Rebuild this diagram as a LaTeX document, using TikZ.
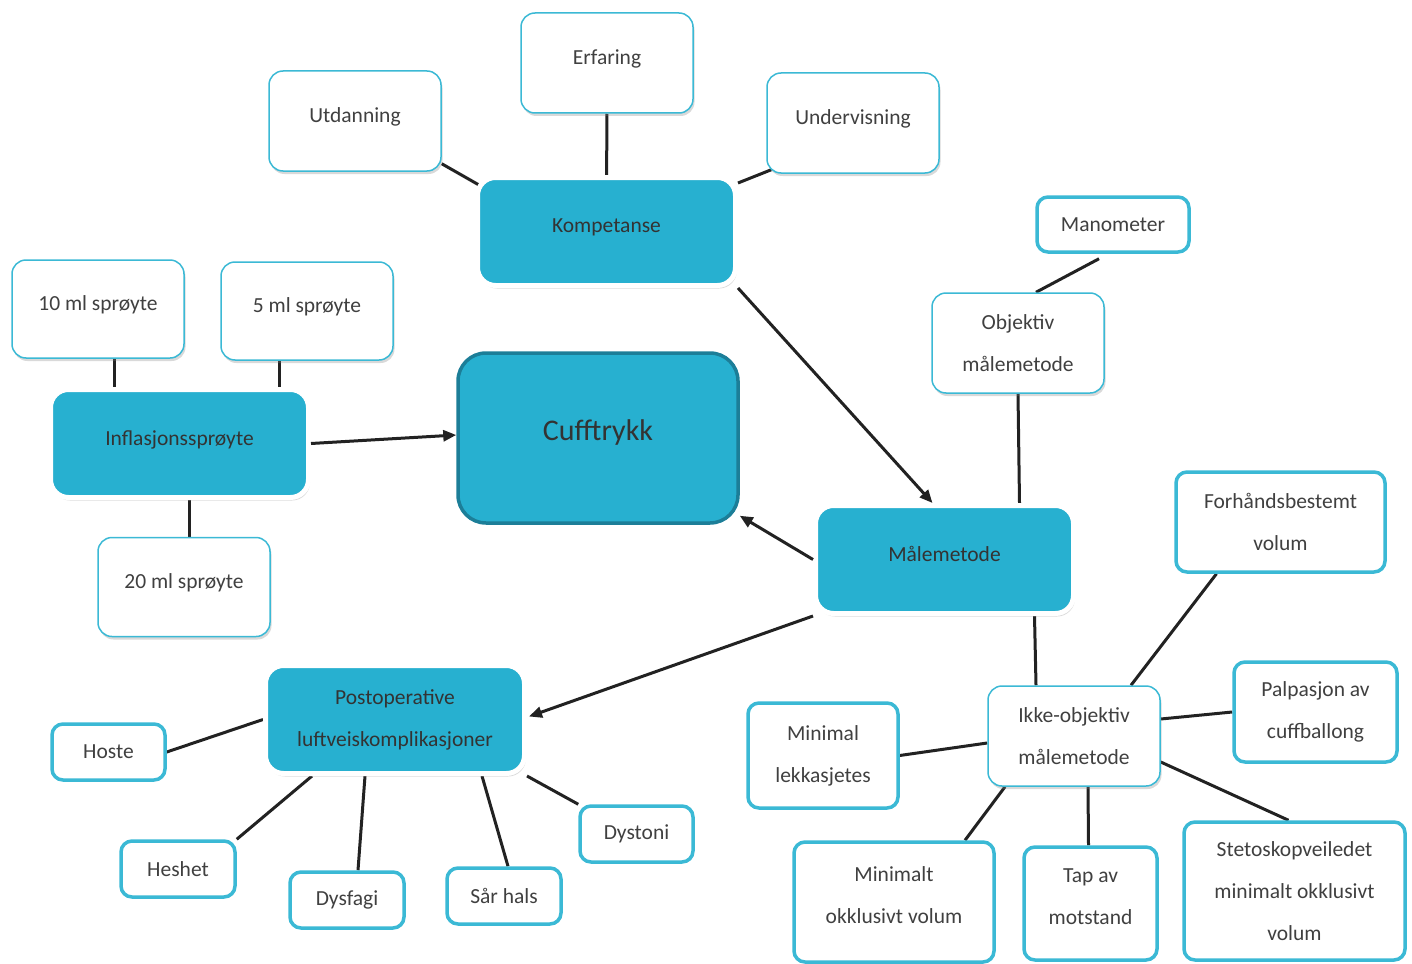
\documentclass[tikz,border=0pt]{standalone}
\usepackage{fontspec}
\setmainfont{Carlito}
\usetikzlibrary{arrows.meta,shadows,backgrounds,calc}

\definecolor{cuffblue}{HTML}{27B0D0}
\definecolor{cuffedge}{HTML}{3BB9D5}
\definecolor{cuffdark}{HTML}{1C7E98}
\definecolor{txtgray}{HTML}{404040}
\definecolor{linegray}{HTML}{222222}

\begin{document}
\begin{tikzpicture}[x=1pt, y=-1pt,
  every node/.style={font=\fontsize{21.5}{42}\selectfont, text=txtgray, align=center, inner sep=0pt},
  leaf/.style={draw=cuffedge, line width=1.5pt, fill=white, rounded corners=14pt,
    minimum width=172pt, minimum height=100pt,
    drop shadow={opacity=0.3, shadow xshift=1.5pt, shadow yshift=-3pt}},
  tipbox/.style={draw=cuffedge, line width=3.5pt, fill=white, rounded corners=11pt},
  hub/.style={draw=white, line width=5pt, fill=cuffblue, rounded corners=18pt,
    minimum width=258pt, minimum height=108pt, text=black!80,
    drop shadow={opacity=0.3, shadow xshift=1.5pt, shadow yshift=-3pt}},
  lifted/.style={text depth=11pt},
  link/.style={draw=linegray, line width=3pt},
  pointer/.style={link, -{Triangle[length=13pt,width=11pt]}}]

  \useasboundingbox (0,0) rectangle (1412,963);

  % centre
  \node[draw=cuffdark, line width=3.5pt, fill=cuffblue, rounded corners=28pt,
    minimum width=280pt, minimum height=170pt, font=\fontsize{30}{36}\selectfont, text=black!80,
    text depth=15pt] (cuff) at (598,438) {Cufftrykk};

  % hubs
  \node[hub, lifted] (komp) at (606.5,231.5) {Kompetanse};
  \node[hub, lifted] (infl) at (179.5,443.5) {Inflasjonssprøyte};
  \node[hub, lifted] (malm) at (944.5,559.5) {Målemetode};
  \node[hub, minimum width=259pt] (post) at (395,719.5) {Postoperative\\luftveiskomplikasjoner};

  % thin boxes
  \node[leaf, lifted] (erf) at (607,63) {Erfaring};
  \node[leaf, lifted] (utd) at (355,121) {Utdanning};
  \node[leaf, lifted] (und) at (853,123) {Undervisning};
  \node[leaf, lifted, minimum height=98pt] (ten) at (98,309) {10 ml sprøyte};
  \node[leaf, lifted, minimum height=98pt] (five) at (307,311) {5 ml sprøyte};
  \node[leaf, lifted, minimum height=99pt] (twenty) at (184,587) {20 ml sprøyte};
  \node[leaf] (obj) at (1018,343) {Objektiv\\målemetode};
  \node[leaf] (ikke) at (1074,736) {Ikke-objektiv\\målemetode};

  % thick boxes
  \node[tipbox, minimum width=152pt, minimum height=55pt] (mano) at (1113,224.5) {Manometer};
  \node[tipbox, minimum width=209pt, minimum height=100pt] (forh) at (1280.5,522) {Forhåndsbestemt\\volum};
  \node[tipbox, minimum width=163pt, minimum height=100pt] (palp) at (1315.5,712) {Palpasjon av\\cuffballong};
  \node[tipbox, minimum width=150pt, minimum height=105pt] (minl) at (823,755.5) {Minimal\\lekkasjetes};
  \node[tipbox, minimum width=200pt, minimum height=120pt, text depth=14pt] (mino) at (894,902) {Minimalt\\okklusivt volum};
  \node[tipbox, minimum width=133pt, minimum height=113pt, text depth=14pt] (tap) at (1090.5,903.5) {Tap av\\motstand};
  \node[tipbox, minimum width=221pt, minimum height=138pt] (stet) at (1294.5,891) {Stetoskopveiledet\\minimalt okklusivt\\volum};
  \node[tipbox, minimum width=113pt, minimum height=56pt] (hoste) at (108.5,752) {Hoste};
  \node[tipbox, minimum width=114pt, minimum height=56pt] (hesh) at (178,869) {Heshet};
  \node[tipbox, minimum width=114pt, minimum height=56pt] (dysf) at (347,900) {Dysfagi};
  \node[tipbox, minimum width=114pt, minimum height=56pt] (sar) at (504,896) {Sår hals};
  \node[tipbox, minimum width=113pt, minimum height=56pt] (dyst) at (636.5,834) {Dystoni};

  % connectors behind the boxes
  \begin{scope}[on background layer]
    \draw[link] (erf) -- (komp);
    \draw[link] ($(utd.south east)+(0,-8)$) -- ($(komp.north west)+(4,10)$);
    \draw[link] ($(und.south west)+(5,-4)$) -- ($(komp.north east)+(0,8)$);
    \draw[link] ($(ten.south)+(16,0)$) -- ($(ten.south |- infl.north)+(16,0)$);
    \draw[link] ($(five.south)+(-28,0)$) -- ($(five.south |- infl.north)+(-28,0)$);
    \draw[link] ($(twenty.north)+(5,0)$) -- ($(twenty.north |- infl.south)+(5,0)$);
    \draw[link] ($(mano.south)+(-14,5)$) -- ($(obj.north)+(18,0)$);
    \draw[link] (obj.south) -- ($(malm.north)+(75,0)$);
    \draw[link] ($(malm.south)+(90,0)$) -- ($(ikke.north)+(-38,0)$);
    \draw[link] ($(forh.south)+(-64,0)$) -- ($(ikke.north)+(57,0)$);
    \draw[link] (palp.west) -- ($(ikke.east)+(0,-17)$);
    \draw[link] (minl.east) -- ($(ikke.west)+(0,7)$);
    \draw[link] ($(ikke.south)+(-69,0)$) -- ($(mino.north)+(71,0)$);
    \draw[link] ($(ikke.south)+(14,0)$) -- ($(tap.north)+(-2,0)$);
    \draw[link] ($(ikke.east)+(0,26)$) -- ($(stet.north)+(-6,0)$);
    \draw[link] (hoste.east) -- (post.west);
    \draw[link] ($(post.south)+(-83,0)$) -- (hesh.north east);
    \draw[link] ($(post.south)+(-30,0)$) -- ($(dysf.north)+(11,0)$);
    \draw[link] ($(post.south)+(87,0)$) -- ($(sar.north)+(4,0)$);
    \draw[link] (post.south east) -- (dyst.north west);
  \end{scope}

  % arrows into the boxes
  \draw[pointer] (komp.south east) -- ($(malm.north)+(-12,0)$);
  \draw[pointer] (infl.east) -- ($(cuff.west)+(0,-3)$);
  \draw[pointer] (malm.west) -- ($(cuff.south east)+(0,-9)$);
  \draw[pointer] (malm.south west) -- ($(post.east)+(2,-3)$);

\end{tikzpicture}
\end{document}
